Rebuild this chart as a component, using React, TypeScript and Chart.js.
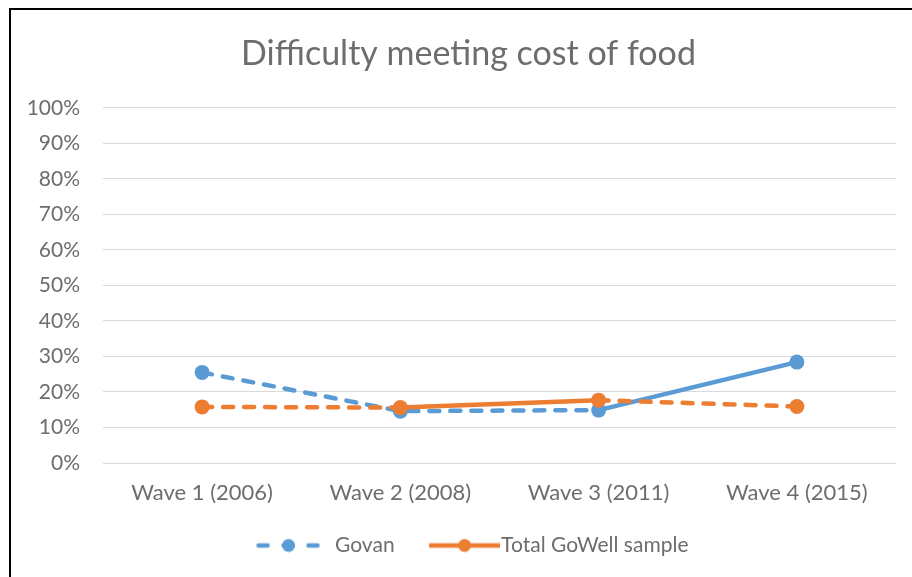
import React, { useEffect, useRef } from "react";
import { Chart, registerables } from "chart.js";

Chart.register(...registerables);

const categories = ["Wave 1 (2006)", "Wave 2 (2008)", "Wave 3 (2011)", "Wave 4 (2015)"];
const govanValues = [25.5, 14.6, 14.9, 28.4];
const totalValues = [15.8, 15.6, 17.7, 15.9];
const yTickValues = [0, 10, 20, 30, 40, 50, 60, 70, 80, 90, 100];
const govanDashedSegments = [true, true, false];
const totalDashedSegments = [true, false, true];
const seriesNames = ["Govan", "Total GoWell sample"];
const titleText = "Difficulty meeting cost of food";

const FONT = "Lato, 'Open Sans', sans-serif";
const BLUE = "#5B9BD5";
const ORANGE = "#ED7D31";
const TEXT = "#6d6d6d";
const DASH = [10, 11];

function govanSwatch(): HTMLCanvasElement {
  const c = document.createElement("canvas");
  c.width = 67;
  c.height = 18;
  const g = c.getContext("2d")!;
  g.strokeStyle = BLUE;
  g.lineWidth = 4.5;
  g.lineCap = "round";
  g.setLineDash([9, 16]);
  g.beginPath();
  g.moveTo(2.5, 9);
  g.lineTo(63, 9);
  g.stroke();
  g.setLineDash([]);
  g.fillStyle = BLUE;
  g.beginPath();
  g.arc(32.5, 9, 6.5, 0, Math.PI * 2);
  g.fill();
  return c;
}

function totalSwatch(): HTMLCanvasElement {
  const c = document.createElement("canvas");
  c.width = 89;
  c.height = 18;
  const g = c.getContext("2d")!;
  g.strokeStyle = ORANGE;
  g.lineWidth = 4.5;
  g.beginPath();
  g.moveTo(18, 9);
  g.lineTo(89, 9);
  g.stroke();
  g.fillStyle = ORANGE;
  g.beginPath();
  g.arc(53.5, 9, 6.5, 0, Math.PI * 2);
  g.fill();
  return c;
}

const shiftBlocks = {
  id: "shiftBlocks",
  afterLayout(chart: any) {
    if (chart.legend) chart.legend.left = 36;
    if (chart.titleBlock) chart.titleBlock.left = 30;
  },
};

export default function App() {
  const ref = useRef<HTMLCanvasElement | null>(null);

  useEffect(() => {
    if (!ref.current) return;
    const swatches = [govanSwatch(), totalSwatch()];
    const chart = new Chart(ref.current, {
      type: "line",
      plugins: [shiftBlocks],
      data: {
        labels: categories,
        datasets: [
          {
            label: seriesNames[0],
            data: govanValues,
            borderColor: BLUE,
            backgroundColor: BLUE,
            borderWidth: 4.5,
            borderCapStyle: "round",
            pointRadius: 7.5,
            pointHoverRadius: 7.5,
            pointBorderWidth: 0,
            pointBackgroundColor: BLUE,
            tension: 0,
            order: 2,
            segment: {
              borderDash: (ctx: any) => (govanDashedSegments[ctx.p0DataIndex] ? DASH : undefined),
            },
          },
          {
            label: seriesNames[1],
            data: totalValues,
            borderColor: ORANGE,
            backgroundColor: ORANGE,
            borderWidth: 4.5,
            borderCapStyle: "round",
            pointRadius: 7.5,
            pointHoverRadius: 7.5,
            pointBorderWidth: 0,
            pointBackgroundColor: ORANGE,
            tension: 0,
            order: 1,
            segment: {
              borderDash: (ctx: any) => (totalDashedSegments[ctx.p0DataIndex] ? DASH : undefined),
            },
          },
        ],
      },
      options: {
        animation: false,
        responsive: false,
        devicePixelRatio: 1,
        layout: { padding: { left: 0, right: 16, top: 6, bottom: 11 } },
        plugins: {
          title: {
            display: true,
            text: titleText,
            color: TEXT,
            font: { family: FONT, size: 34, weight: "normal" },
            padding: { top: 18, bottom: 33 },
          },
          legend: {
            position: "bottom",
            labels: {
              usePointStyle: true,
              pointStyleWidth: 70,
              color: TEXT,
              font: { family: FONT, size: 21 },
              padding: 26,
              generateLabels: () =>
                seriesNames.map((n, i) => ({
                  text: n,
                  pointStyle: swatches[i],
                  fillStyle: "transparent",
                  strokeStyle: "transparent",
                  lineWidth: 0,
                  fontColor: TEXT,
                  datasetIndex: i,
                  hidden: false,
                })),
            },
          },
          tooltip: { enabled: false },
        },
        scales: {
          x: {
            offset: true,
            grid: { display: false, drawTicks: false },
            border: { display: false },
            ticks: { color: TEXT, font: { family: FONT, size: 22 }, padding: 17, maxRotation: 0 },
            afterFit: (s: any) => {
              s.height = 46;
            },
          },
          y: {
            min: 0,
            max: 100,
            grid: { color: "#d9d9d9", lineWidth: 1, drawTicks: false },
            border: { display: false },
            ticks: {
              color: TEXT,
              font: { family: FONT, size: 21 },
              padding: 23,
              callback: (v: any) => v + "%",
            },
            afterBuildTicks: (s: any) => {
              s.ticks = yTickValues.map((v) => ({ value: v }));
            },
            afterFit: (s: any) => {
              s.width = 92;
            },
          },
        },
      },
    });
    return () => chart.destroy();
  }, []);

  return (
    <div
      style={{
        position: "fixed",
        left: 9,
        top: 8,
        width: 901,
        height: 567,
        borderLeft: "2px solid #000",
        borderTop: "2px solid #000",
        background: "#fff",
      }}
    >
      <canvas ref={ref} width={901} height={567} style={{ display: "block", width: 901, height: 567 }} />
    </div>
  );
}
